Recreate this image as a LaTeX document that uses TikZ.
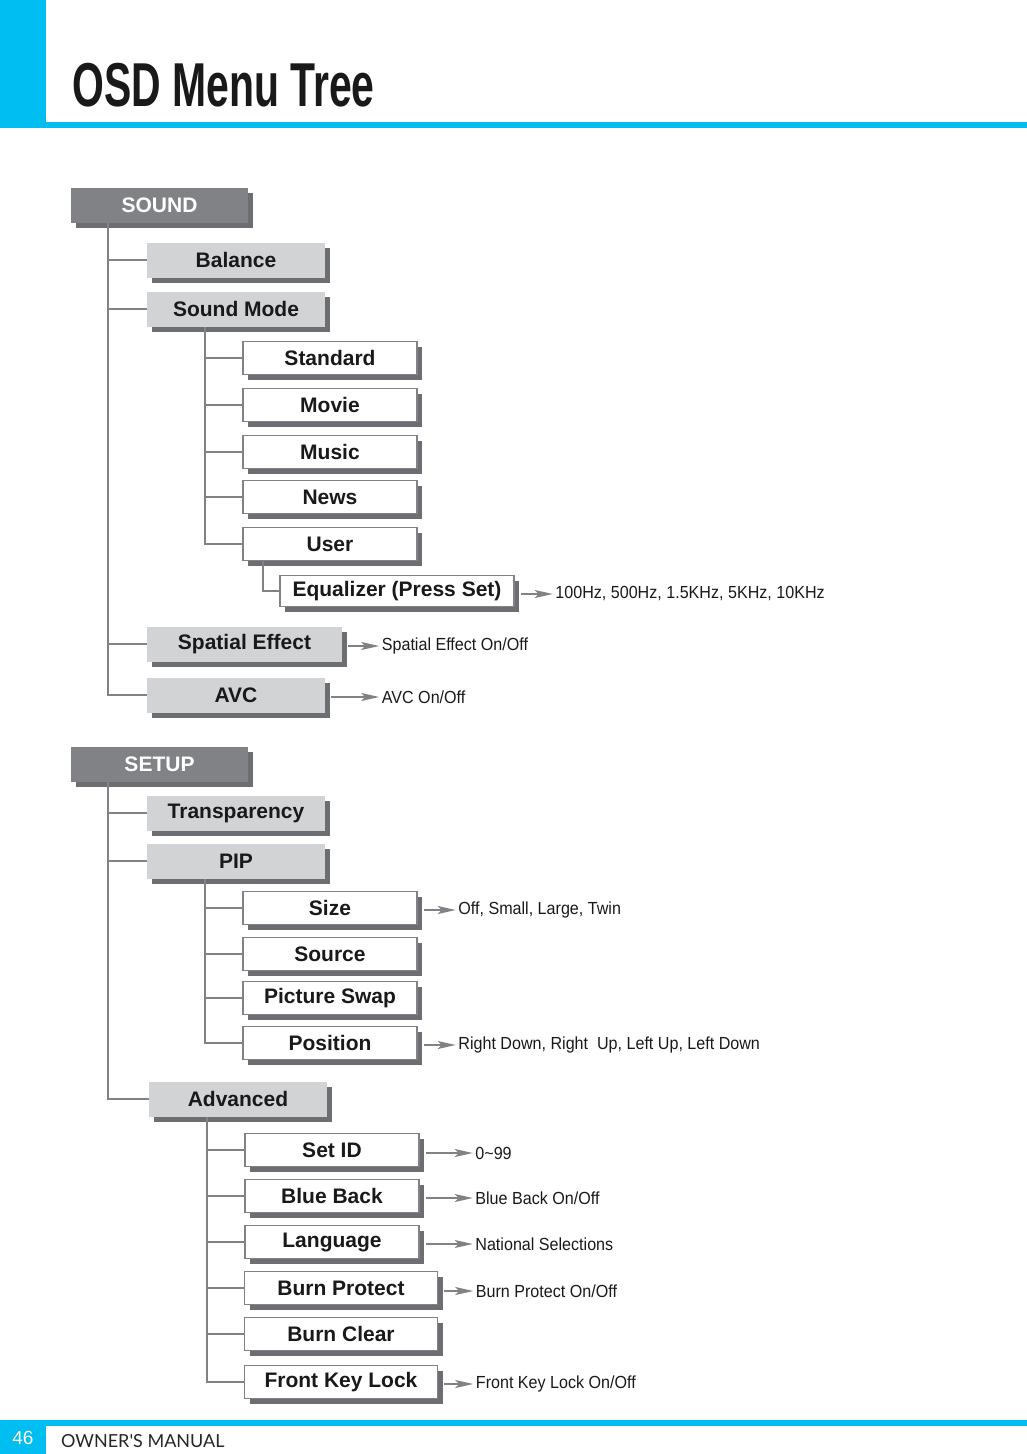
\documentclass[tikz,border=0pt]{standalone}
\usepackage{fontspec}
\setmainfont{Liberation Sans}
\newfontfamily\lato{Lato}
\usetikzlibrary{shadows,arrows.meta}
\definecolor{cy}{HTML}{00BDF2}
\definecolor{dk}{HTML}{808285}
\definecolor{sh}{HTML}{6D6E71}
\definecolor{lt}{HTML}{D1D3D4}
\begin{document}
\begin{tikzpicture}[x=1pt,y=-1pt,
 base/.style={minimum height=35pt,inner sep=0pt,font=\fontsize{21}{21}\selectfont\bfseries,
   drop shadow={shadow xshift=5pt,shadow yshift=-5pt,fill=sh,opacity=1}},
 top/.style={base,fill=dk,text=white,minimum width=177pt},
 l1/.style={base,fill=lt,text=black!90,minimum width=178pt},
 l2/.style={base,fill=white,draw=dk,line width=1.5pt,text=black!90,minimum width=174pt,minimum height=33pt},
 tree/.style={draw=dk,line width=1.8pt},
 arr/.style={draw=dk,line width=1.8pt,-{Stealth[length=18pt,width=8pt,inset=4pt]}},
 lab/.style={right,inner sep=0pt,font=\fontsize{17.5}{17.5}\selectfont,xscale=0.92,text=black!90}]
\useasboundingbox (0,0) rectangle (1027,1454);
\fill[cy] (0,0) rectangle (46,128);
\fill[cy] (0,122) rectangle (1027,128);
\node[anchor=base west,inner sep=0pt,font=\fontsize{62}{62}\selectfont\bfseries,text=black!90] (title) at (72,106) {\scalebox{0.66}[1]{OSD Menu Tree}};
\fill[cy] (0,1420) rectangle (1027,1426);
\fill[cy] (0,1420) rectangle (46,1454);
\node[text=white,font=\fontsize{19}{19}\selectfont] (pg) at (23,1438) {46};
\node[anchor=base west,inner sep=0pt,font=\lato\fontsize{18}{18}\selectfont,text=black!85] (om) at (61,1447) {OWNER'S MANUAL};

% SOUND
\node[top] (sound) at (159.5,205) {SOUND};
\node[l1] (bal) at (236,260) {Balance};
\node[l1] (sm) at (236,309) {Sound Mode};
\node[l2] (std) at (330,358) {Standard};
\node[l2] (mov) at (330,405) {Movie};
\node[l2] (mus) at (330,452) {Music};
\node[l2] (news) at (330,497) {News};
\node[l2] (user) at (330,544) {User};
\node[l2,minimum width=234pt,minimum height=31pt] (eq) at (397,591) {Equalizer (Press Set)};
\node[l1,minimum width=195pt] (sp) at (244.5,644) {Spatial Effect};
\node[l1] (avc) at (236,695) {AVC};

\draw[tree] ([xshift=37pt]sound.south west) |- (avc.west);
\foreach \n in {bal,sm,sp} \draw[tree] (\n.west) -- ++(-39,0);
\draw[tree] ([xshift=58pt]sm.south west) |- (user.west);
\foreach \n in {std,mov,mus,news} \draw[tree] (\n.west) -- ++(-38,0);
\draw[tree] ([xshift=21pt]user.south west) |- (eq.west);
\draw[arr] ([xshift=6pt,yshift=-3pt]eq.east) -- ++(32,0) node[lab,xshift=2pt] (eqt) {100Hz, 500Hz, 1.5KHz, 5KHz, 10KHz};
\draw[arr] ([xshift=6pt,yshift=-2pt]sp.east) -- ++(31,0) node[lab,xshift=2pt] (spt) {Spatial Effect On/Off};
\draw[arr] ([xshift=6pt,yshift=-2pt]avc.east) -- ++(48,0) node[lab,xshift=2pt] (avt) {AVC On/Off};

% SETUP
\node[top] (setup) at (159.5,764) {SETUP};
\node[l1] (tr) at (236,813) {Transparency};
\node[l1] (pip) at (236,861) {PIP};
\node[l2] (size) at (330,908) {Size};
\node[l2] (src) at (330,954) {Source};
\node[l2] (psw) at (330,998) {Picture Swap};
\node[l2] (pos) at (330,1043) {Position};
\node[l1] (adv) at (238,1099) {Advanced};
\node[l2] (sid) at (332,1150) {Set ID};
\node[l2] (bb) at (332,1196) {Blue Back};
\node[l2] (lang) at (332,1242) {Language};
\node[l2,minimum width=193pt] (bp) at (341,1288) {Burn Protect};
\node[l2,minimum width=193pt] (bc) at (341,1334) {Burn Clear};
\node[l2,minimum width=193pt] (fk) at (341,1382) {Front Key Lock};

\draw[tree] ([xshift=37pt]setup.south west) |- (adv.west);
\foreach \n in {tr,pip} \draw[tree] (\n.west) -- ++(-39,0);
\draw[tree] ([xshift=58pt]pip.south west) |- (pos.west);
\foreach \n in {size,src,psw} \draw[tree] (\n.west) -- ++(-38,0);
\draw[tree] ([xshift=58pt]adv.south west) |- (fk.west);
\foreach \n in {sid,bb,lang,bp,bc} \draw[tree] (\n.west) -- ++(-37,0);

\draw[arr] ([xshift=6pt,yshift=-2pt]size.east) -- ++(32,0) node[lab,xshift=2pt] (szt) {Off, Small, Large, Twin};
\draw[arr] ([xshift=6pt,yshift=-2pt]pos.east) -- ++(32,0) node[lab,xshift=2pt] (pst) {Right Down, Right\ \ Up, Left Up, Left Down};
\draw[arr] ([xshift=6pt,yshift=-3pt]sid.east) -- ++(47,0) node[lab,xshift=2pt] (sit) {0\textasciitilde99};
\draw[arr] ([xshift=6pt,yshift=-2pt]bb.east) -- ++(47,0) node[lab,xshift=2pt] (bbt) {Blue Back On/Off};
\draw[arr] ([xshift=6pt,yshift=-2pt]lang.east) -- ++(47,0) node[lab,xshift=2pt] (lgt) {National Selections};
\draw[arr] ([xshift=6pt,yshift=-3pt]bp.east) -- ++(29,0) node[lab,xshift=2pt] (bpt) {Burn Protect On/Off};
\draw[arr] ([xshift=6pt,yshift=-2pt]fk.east) -- ++(29,0) node[lab,xshift=2pt] (fkt) {Front Key Lock On/Off};
\end{tikzpicture}
\end{document}
